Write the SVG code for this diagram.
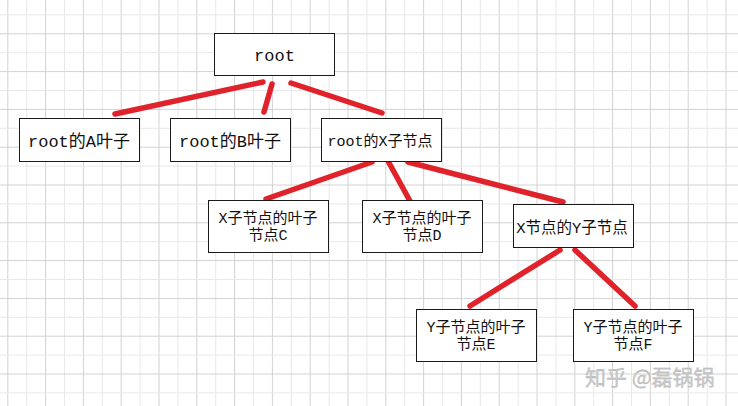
<svg xmlns="http://www.w3.org/2000/svg" width="738" height="406" viewBox="0 0 738 406">
<style>
.box{fill:#ffffff;stroke:#1a1a1a;stroke-width:1}
.t{font-family:"Liberation Mono","Noto Sans CJK SC",monospace;fill:#111111;text-anchor:middle}
.edge{stroke:#e0232b;stroke-width:5.5;stroke-linecap:round;fill:none}
.wm{font-family:"Noto Sans CJK SC","Noto Sans",sans-serif;font-size:21px;fill:#cacaca;stroke:#b0b0b0;stroke-width:0.3}
</style>
<defs>
<pattern id="grid" x="7.3" y="14.4" width="37.8" height="37.8" patternUnits="userSpaceOnUse">
<rect width="37.8" height="37.8" fill="#ffffff"/>
<line x1="0.5" y1="0" x2="0.5" y2="37.8" stroke="#d2d2d2" stroke-width="1"/>
<line x1="19.4" y1="0" x2="19.4" y2="37.8" stroke="#e8e8e8" stroke-width="1"/>
<line x1="0" y1="0.5" x2="37.8" y2="0.5" stroke="#e8e8e8" stroke-width="1"/>
<line x1="0" y1="19.4" x2="37.8" y2="19.4" stroke="#d2d2d2" stroke-width="1"/>
</pattern>
</defs>
<rect width="738" height="406" fill="url(#grid)"/>
<g id="connectors">
<line class="edge" x1="263" y1="82" x2="115" y2="114"/>
<line class="edge" x1="272" y1="84" x2="264" y2="112"/>
<line class="edge" x1="291" y1="83" x2="382" y2="113"/>
<line class="edge" x1="372" y1="162" x2="266" y2="199"/>
<line class="edge" x1="388" y1="161" x2="410" y2="201"/>
<line class="edge" x1="408" y1="162" x2="563" y2="202"/>
<line class="edge" x1="560" y1="250" x2="470" y2="306"/>
<line class="edge" x1="575" y1="250" x2="635" y2="306"/>
</g>
<g id="root">
<rect class="box" x="214.5" y="33.5" width="120" height="42"/>
<text class="t" x="274.5" y="61" font-size="17">root</text>
</g>
<g id="leafA">
<rect class="box" x="19.5" y="118.5" width="120" height="43"/>
<text class="t" x="79" y="147" font-size="17">root的A叶子</text>
</g>
<g id="leafB">
<rect class="box" x="170.5" y="118.5" width="120" height="43"/>
<text class="t" x="230" y="147" font-size="17">root的B叶子</text>
</g>
<g id="nodeX">
<rect class="box" x="321.5" y="118.5" width="120" height="43"/>
<text class="t" x="380" y="146" font-size="15">root的X子节点</text>
</g>
<g id="leafC">
<rect class="box" x="208.5" y="200.5" width="120" height="52"/>
<text class="t" x="268" y="223" font-size="15">X子节点的叶子</text>
<text class="t" x="268" y="240" font-size="15">节点C</text>
</g>
<g id="leafD">
<rect class="box" x="362.5" y="200.5" width="120" height="52"/>
<text class="t" x="422" y="223" font-size="15">X子节点的叶子</text>
<text class="t" x="422" y="240" font-size="15">节点D</text>
</g>
<g id="nodeY">
<rect class="box" x="513.5" y="204.5" width="120" height="43"/>
<text class="t" x="572" y="233" font-size="15.5">X节点的Y子节点</text>
</g>
<g id="leafE">
<rect class="box" x="416.5" y="309.5" width="120" height="52"/>
<text class="t" x="476" y="332" font-size="15">Y子节点的叶子</text>
<text class="t" x="476" y="349" font-size="15">节点E</text>
</g>
<g id="leafF">
<rect class="box" x="573.5" y="309.5" width="120" height="52"/>
<text class="t" x="633" y="332" font-size="15">Y子节点的叶子</text>
<text class="t" x="633" y="349" font-size="15">节点F</text>
</g>
<text class="wm" x="585" y="385">知乎 @磊锅锅</text>
</svg>
